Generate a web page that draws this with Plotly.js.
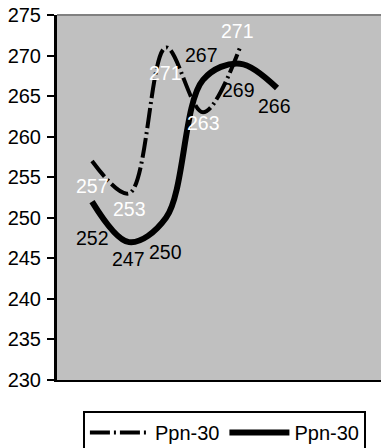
<!DOCTYPE html>
<html>
<head>
<meta charset="utf-8">
<script src="https://cdn.plot.ly/plotly-3.0.1.min.js"></script>
<style>
  html, body { margin: 0; padding: 0; background: #ffffff; }
  #chart { width: 381px; height: 448px; }
</style>
</head>
<body>
<div id="chart"></div>
<script>
// Category positions along the horizontal axis
const positionsA = [1, 2, 3, 4, 5];
const positionsB = [1, 2, 3, 4, 5, 6];

// Series values
const seriesName = 'Ppn-30';
const dashedValues = [257, 253, 271, 263, 271];
const solidValues = [252, 247, 250, 267, 269, 266];

// Y axis ticks
const yTicks = [230, 235, 240, 245, 250, 255, 260, 265, 270, 275];

// Label nudges in pixels (x, y) so the value labels sit beside the curves
const dashedShift = [[0, -25], [0, -16], [-1, -26], [0, -11], [-3, 16]];
const solidShift = [[0, -36], [-1, -17], [-1, -34], [-2, 25], [-2, -26], [-3, -18]];

const FONT = '"Liberation Sans", Arial, sans-serif';

const traces = [
  {
    x: positionsA, y: dashedValues, name: seriesName, type: 'scatter', mode: 'lines',
    line: { color: '#000000', width: 4, dash: '20px,4px,2px,4px', shape: 'spline', smoothing: 1 },
    hoverinfo: 'skip'
  },
  {
    x: positionsB, y: solidValues, name: seriesName, type: 'scatter', mode: 'lines',
    line: { color: '#000000', width: 6, shape: 'spline', smoothing: 1 },
    hoverinfo: 'skip'
  }
];

const annotations = [];
dashedValues.forEach((v, i) => annotations.push({
  x: positionsA[i], y: v, text: String(v), showarrow: false,
  xanchor: 'center', yanchor: 'middle',
  xshift: dashedShift[i][0], yshift: dashedShift[i][1],
  font: { family: FONT, size: 19.5, color: '#ffffff' }
}));
solidValues.forEach((v, i) => annotations.push({
  x: positionsB[i], y: v, text: String(v), showarrow: false,
  xanchor: 'center', yanchor: 'middle',
  xshift: solidShift[i][0], yshift: solidShift[i][1],
  font: { family: FONT, size: 19.5, color: '#000000' }
}));

const layout = {
  width: 381, height: 448,
  margin: { l: 57, r: 0, t: 15, b: 68, pad: 0, autoexpand: false },
  paper_bgcolor: '#ffffff',
  plot_bgcolor: '#c0c0c0',
  font: { family: FONT, size: 20, color: '#000000' },
  showlegend: true,
  legend: {
    orientation: 'h', x: 0.08, xanchor: 'left', y: -0.085, yanchor: 'top',
    bgcolor: '#ffffff', bordercolor: '#000000', borderwidth: 2,
    font: { family: FONT, size: 20, color: '#000000' },
    itemwidth: 60, tracegroupgap: 0
  },
  xaxis: {
    range: [0.054, 8.81], showgrid: false, zeroline: false,
    showticklabels: false, ticks: '',
    showline: true, linecolor: '#000000', linewidth: 2, fixedrange: true
  },
  yaxis: {
    range: [230, 275], tickvals: yTicks, ticktext: yTicks.map(String),
    showgrid: false, zeroline: false,
    ticks: 'outside', ticklen: 7, tickwidth: 2, tickcolor: '#000000',
    showline: true, linecolor: '#000000', linewidth: 3,
    tickfont: { family: FONT, size: 20, color: '#000000' },
    ticklabelstandoff: 2, fixedrange: true
  },
  shapes: [{
    type: 'line', xref: 'paper', yref: 'paper', x0: 0, x1: 1, y0: 1, y1: 1,
    line: { color: '#808080', width: 2 }
  }],
  annotations: annotations
};

Plotly.newPlot('chart', traces, layout, { displayModeBar: false, staticPlot: true });
</script>
</body>
</html>
